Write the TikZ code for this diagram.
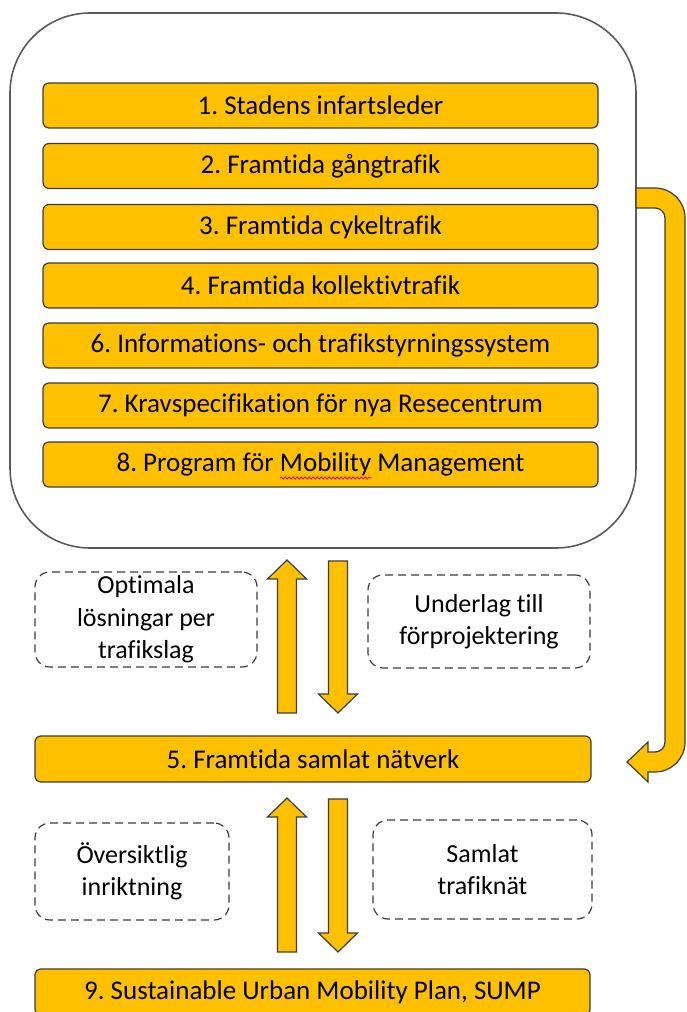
\documentclass[tikz,border=0pt]{standalone}
\usepackage{fontspec}
\setmainfont{Carlito}[Ligatures=NoCommon]
\usetikzlibrary{calc,decorations.pathmorphing}
\definecolor{gold}{HTML}{FFC000}
\definecolor{edge}{HTML}{3C3C3C}
\definecolor{frame}{HTML}{5A5A5A}
\frenchspacing
\tikzset{
  task/.style={draw=edge, line width=1.2pt, fill=gold, rounded corners=6pt,
    minimum width=555pt, minimum height=45pt, inner sep=0pt,
    font=\fontsize{27}{32}\selectfont},
  note/.style={draw=edge, line width=1.2pt, dash pattern=on 8pt off 5pt,
    rounded corners=15pt, inner sep=0pt, align=center,
    font=\fontsize{26}{32.5}\selectfont},
  group/.style={draw=frame, line width=1.6pt, rounded corners=80pt,
    minimum width=626pt, minimum height=535pt},
  barrow/.style={draw=edge, line width=1.2pt, fill=gold, line join=miter}
}
% vertical block arrow from #1 (tail) to #2 (tip)
\newcommand\vblock[2]{%
  \draw[barrow] let \p1=(#1), \p2=(#2), \n1={(\y2-\y1)/abs(\y2-\y1)} in
    (\x1-9.5pt,\y1) -- (\x1-9.5pt,\y2-\n1*19pt) -- (\x1-19.5pt,\y2-\n1*19pt)
    -- (\x2,\y2) -- (\x1+19.5pt,\y2-\n1*19pt) -- (\x1+9.5pt,\y2-\n1*19pt)
    -- (\x1+9.5pt,\y1) -- cycle;}
\begin{document}
\begin{tikzpicture}[x=1pt,y=1pt]
\useasboundingbox (0,0) rectangle (686,1012);
\fill[white] (0,0) rectangle (686,1012);

\node[group] (grp) at (323,731.5) {};

\node[task] (t1) at (320.5,906.5) {1. Stadens infartsleder};
\node[task] (t2) at (320.5,846) {2. Framtida gångtrafik};
\node[task] (t3) at (320.5,785) {3. Framtida cykeltrafik};
\node[task] (t4) at (320.5,726.5) {4. Framtida kollektivtrafik};
\node[task] (t6) at (320.5,666.5) {6. Informations- och trafikstyrningssystem};
\node[task] (t7) at (320.5,606.5) {7. Kravspecifikation för nya Resecentrum};
\node[task] (t8) at (320.5,547.5) {8. Program för Mobility Management};

\node[task, minimum width=556pt, minimum height=46pt] (t5) at (313,253) {5. Framtida samlat nätverk};
\node[task, minimum width=555pt, minimum height=46pt] (t9) at (312.5,20) {9. Sustainable Urban Mobility Plan, SUMP};

\node[note, minimum width=222pt, minimum height=95pt] (n1) at (146,392.5) {Optimala\\lösningar per\\trafikslag};
\node[note, minimum width=222pt, minimum height=93pt] (n2) at (479,390.5) {Underlag till\\förprojektering};
\node[note, minimum width=194pt, minimum height=97pt] (n3) at (132,140.5) {Översiktlig\\inriktning};
\node[note, minimum width=219pt, minimum height=99pt] (n4) at (482.5,142.5) {Samlat\\trafiknät};

% vertical arrows
\coordinate (u1s) at (287,299); \coordinate (u1e) at (287,452);
\coordinate (d1s) at (338,451); \coordinate (d1e) at (338,299);
\coordinate (u2s) at (287,60);  \coordinate (u2e) at (287,214);
\coordinate (d2s) at (338,213); \coordinate (d2e) at (338,60);
\vblock{u1s}{u1e}
\vblock{d1s}{d1e}
\vblock{u2s}{u2e}
\vblock{d2s}{d2e}

% bent arrow from the group to box 5
\coordinate (bt) at (627,250);
\draw[barrow] (636,824) -- (655,824) arc[start angle=90, end angle=0, radius=30]
  -- (685,270) arc[start angle=0, end angle=-90, radius=30]
  -- (648,240) -- (648,230) -- (bt) -- (648,270) -- (648,260) -- (655,260)
  arc[start angle=-90, end angle=0, radius=10]
  -- (665,794) arc[start angle=0, end angle=90, radius=10]
  -- (636,804) -- cycle;

% spell-check squiggle under "Mobility"
\draw[red, line width=0.8pt, decorate, decoration={snake, amplitude=1pt, segment length=4pt}]
  (280,534) -- (372,534);
\end{tikzpicture}
\end{document}
